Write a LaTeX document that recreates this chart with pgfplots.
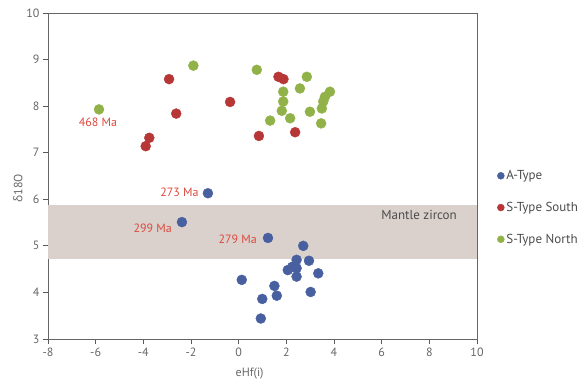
\documentclass[border=0pt]{standalone}
\usepackage{pgfplots}
\pgfplotsset{compat=1.18}
\usepackage{fontspec}
\setmainfont{PT Sans}
\newfontfamily\grk{Open Sans}
\definecolor{atype}{RGB}{72,96,160}
\definecolor{ssouth}{RGB}{183,55,55}
\definecolor{snorth}{RGB}{145,178,72}
\definecolor{band}{RGB}{218,209,204}
\definecolor{lab}{RGB}{222,72,62}
\begin{document}
\begin{tikzpicture}
\begin{axis}[
  name=ax,
  scale only axis, width=429pt, height=326pt,
  xmin=-8, xmax=10, ymin=3, ymax=10,
  xtick={-8,-6,...,10}, ytick={3,4,...,10},
  tick align=outside, xtick pos=bottom, ytick pos=left,
  major tick length=5pt,
  axis line style={black!60, line width=0.8pt},
  tick style={black!65, line width=0.8pt},
  tick label style={font=\fontsize{12}{13}\selectfont, text=black!60},
  /pgf/number format/assume math mode=true,
  xlabel={eHf(i)},
  ylabel={{\grk δ}18O},
  label style={font=\fontsize{12}{13}\selectfont, text=black!60},
  xlabel style={at={(axis description cs:0.47,0)}, anchor=north, yshift=-25pt},
  ylabel style={at={(axis description cs:0,0.463)}, anchor=center, yshift=30pt},
  legend style={draw=none, fill=none, at={(1.04,0.53)}, anchor=north west,
     font=\fontsize{13}{15}\selectfont, text=black!70, row sep=17pt,
     /tikz/every odd column/.append style={column sep=0pt},
     /tikz/every even column/.append style={column sep=3pt}},
  legend cell align=left,
  legend image code/.code={\draw[#1] plot coordinates {(0.15cm,0cm)};},
  legend image post style={mark size=3.5pt},
  scat/.style={only marks, mark=*, mark size=5pt, mark options={draw=#1, fill=#1}},
  clip=false,
]
\addplot[draw=none, fill=band, forget plot, mark=none] coordinates {(-8,4.72) (10,4.72) (10,5.88) (-8,5.88)} -- cycle;

\addplot[scat=atype] coordinates {
(-1.29,6.13) (-2.38,5.51) (1.23,5.17)
(2.71,5.00) (2.43,4.70) (2.95,4.68) (2.06,4.48) (2.43,4.52) (2.25,4.55)
(2.43,4.34) (3.34,4.41) (0.13,4.27) (1.50,4.14) (1.60,3.93) (0.99,3.86)
(3.02,4.01) (0.93,3.44)};
\addlegendentry{A-Type}

\addplot[scat=ssouth] coordinates {
(-2.92,8.58) (-2.62,7.84) (-3.75,7.32) (-3.90,7.14) (-0.36,8.09)
(0.85,7.36) (1.67,8.63) (1.88,8.58) (2.37,7.44)};
\addlegendentry{S-Type South}

\addplot[scat=snorth] coordinates {
(-5.86,7.93) (-1.90,8.87) (0.76,8.78) (2.86,8.63) (2.57,8.38)
(1.87,8.31) (1.87,8.10) (1.81,7.90) (2.16,7.74) (1.32,7.69)
(2.99,7.88) (3.83,8.31) (3.62,8.20) (3.55,8.10) (3.49,7.95) (3.46,7.63)};
\addlegendentry{S-Type North}

\node[text=lab, font=\fontsize{12}{13}\selectfont, anchor=north, inner sep=1pt] at (axis cs:-5.9,7.77) {468 Ma};
\node[text=lab, font=\fontsize{12}{13}\selectfont, anchor=east, inner sep=1pt] at (axis cs:-1.63,6.14) {273 Ma};
\node[text=lab, font=\fontsize{12}{13}\selectfont, anchor=east, inner sep=1pt] at (axis cs:-2.75,5.38) {299 Ma};
\node[text=lab, font=\fontsize{12}{13}\selectfont, anchor=east, inner sep=1pt] at (axis cs:0.81,5.15) {279 Ma};
\node[text=black!70, font=\fontsize{13}{14}\selectfont] at (axis cs:7.57,5.66) {Mantle zircon};
\end{axis}
\pgfresetboundingbox
\useasboundingbox ([xshift=-48pt,yshift=-42pt]ax.south west) rectangle ([xshift=110pt,yshift=13pt]ax.north east);
\end{tikzpicture}
\end{document}
